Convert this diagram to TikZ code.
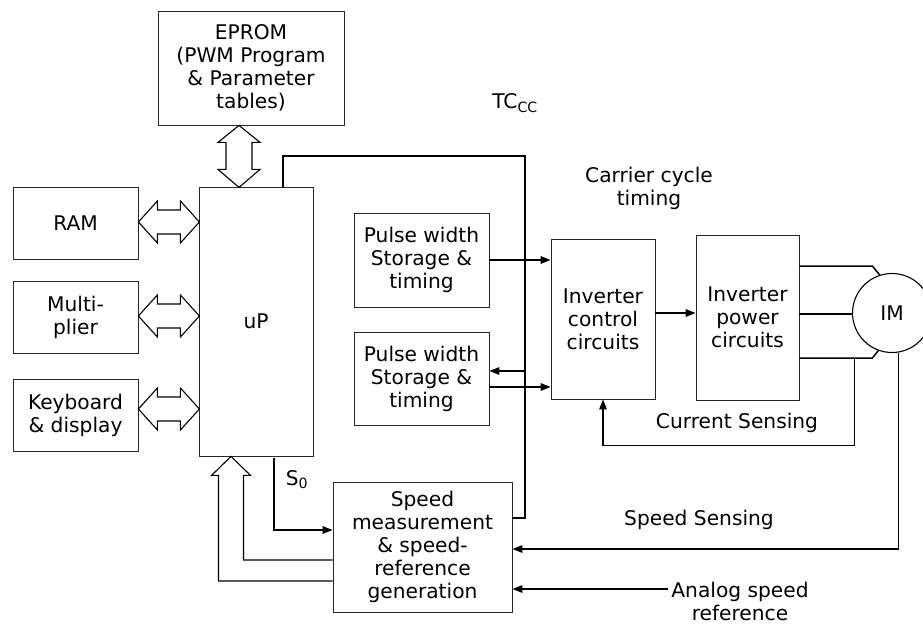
\documentclass[tikz,border=0pt]{standalone}
\usepackage{fontspec}
\setmainfont{DejaVu Sans}
\usetikzlibrary{arrows.meta,calc}

\begin{document}
\begin{tikzpicture}[x=1pt,y=-1pt,font=\fontsize{20.2}{23}\selectfont,
    box/.style={draw=black!85,line width=.8pt,align=center,inner sep=0pt},
    wire/.style={line width=1.5pt},
    sig/.style={wire,-{Triangle[length=10pt,width=7.5pt]}},
    bus/.style={draw,line width=1.1pt,line join=miter}]
  \useasboundingbox (0,0) rectangle (923,624);
  % blocks
  \node[box,minimum width=186pt,minimum height=114pt] (eprom) at (251,68)
    {EPROM\\(PWM Program\\\& Parameter\\tables)};
  \node[box,minimum width=114pt,minimum height=269pt] (up) at (256,321.5) {uP};
  \node[box,minimum width=125pt,minimum height=72pt] (ram) at (75.5,223) {RAM};
  \node[box,minimum width=125pt,minimum height=72pt] (mult) at (75.5,317) {Multi-\\plier};
  \node[box,minimum width=125pt,minimum height=72pt] (keys) at (75.5,415) {Keyboard\\\& display};
  \node[box,minimum width=135pt,minimum height=94pt] (pw1) at (421.5,260) {Pulse width\\Storage \&\\timing};
  \node[box,minimum width=135pt,minimum height=93pt] (pw2) at (421.5,378.5) {Pulse width\\Storage \&\\timing};
  \node[box,minimum width=104pt,minimum height=160pt] (icc) at (603,319) {Inverter\\control\\circuits};
  \node[box,minimum width=103pt,minimum height=165pt] (ipc) at (747.5,317.5) {Inverter\\power\\circuits};
  \node[box,circle,line width=1.1pt,draw=black,minimum size=79pt] (im) at (892,313) {IM};
  \node[box,minimum width=179pt,minimum height=130pt] (speed) at (422.5,547)
    {Speed\\measurement\\\& speed-\\reference\\generation};
  % labels
  \node (tcclbl) at (515,103) {TC\textsubscript{CC}};
  \node[align=center] (carrier) at (649,188) {Carrier cycle\\timing};
  \node (curlbl) at (737,423) {Current Sensing};
  \node (spdlbl) at (699,520) {Speed Sensing};
  \node[align=center] (analog) at (740,601) {Analog speed\\reference};
  \node (s0) at (297,479.5) {S\textsubscript{0}};
  % hollow bus arrows
  \foreach \n/\dy in {ram/-1,mult/-1,keys/-6}
    \draw[bus] ($(\n.east)+(0,\dy)$) -- ++(19,-21) -- ++(0,9) -- ++(23,0) -- ++(0,-9)
      -- ++(19,21) -- ++(-19,21) -- ++(0,-9) -- ++(-23,0) -- ++(0,9) -- cycle;
  \draw[bus] ($(eprom.south)+(-12,0)$) -- ++(21,17) -- ++(-8,0) -- ++(0,27) -- ++(8,0)
    -- ++(-21,18) -- ++(-21,-18) -- ++(8,0) -- ++(0,-27) -- ++(-8,0) -- cycle;
  \coordinate (upin) at ($(up.south)+(-25,0)$);
  \draw[bus] ($(speed.west)+(0,34)$) -| ($(upin)+(-12.5,19)$) -- ++(-7,0) -- (upin)
    -- ++(19.5,19) -- ++(-7,0) |- ($(speed.west)+(0,13)$);
  % signal lines
  \coordinate (ctop) at (525,156);
  \draw[wire] ($(up.north)+(27,0)$) |- (ctop) |- ($(speed.east)+(0,-29)$);
  \coordinate (pw2in) at ($(pw2.east)+(0,-7.5)$);
  \draw[sig] (ctop |- pw2in) -- (pw2in);
  \draw[sig] (pw1.east) -- (pw1.east -| icc.west);
  \draw[sig] ($(pw2.east)+(0,8.5)$) coordinate (pw2out) -- (pw2out -| icc.west);
  \draw[sig] ($(icc.east)+(0,-6)$) coordinate (iccout) -- (iccout -| ipc.west);
  \draw[wire] ($(ipc.east)+(0,-51.5)$) -- ++(73,0) -- (im.108);
  \draw[wire] ($(ipc.east)+(0,-3.5)$) coordinate (ph2) -- (ph2 -| im.west);
  \draw[wire] ($(ipc.east)+(0,40.5)$) coordinate (ph3) -- ++(73,0) -- (im.250);
  \draw[sig] ($(ph3)+(55,0)$) |- ($(icc.south)+(0,46)$) -- (icc.south);
  \draw[sig] (im.-81) |- ($(speed.east)+(0,2)$);
  \coordinate (anin) at ($(speed.east)+(0,42)$);
  \draw[sig] (analog.west |- anin) -- (anin);
  \draw[sig] ($(up.south)+(18,2)$) |- ($(speed.west)+(0,-17)$);
\end{tikzpicture}
\end{document}
